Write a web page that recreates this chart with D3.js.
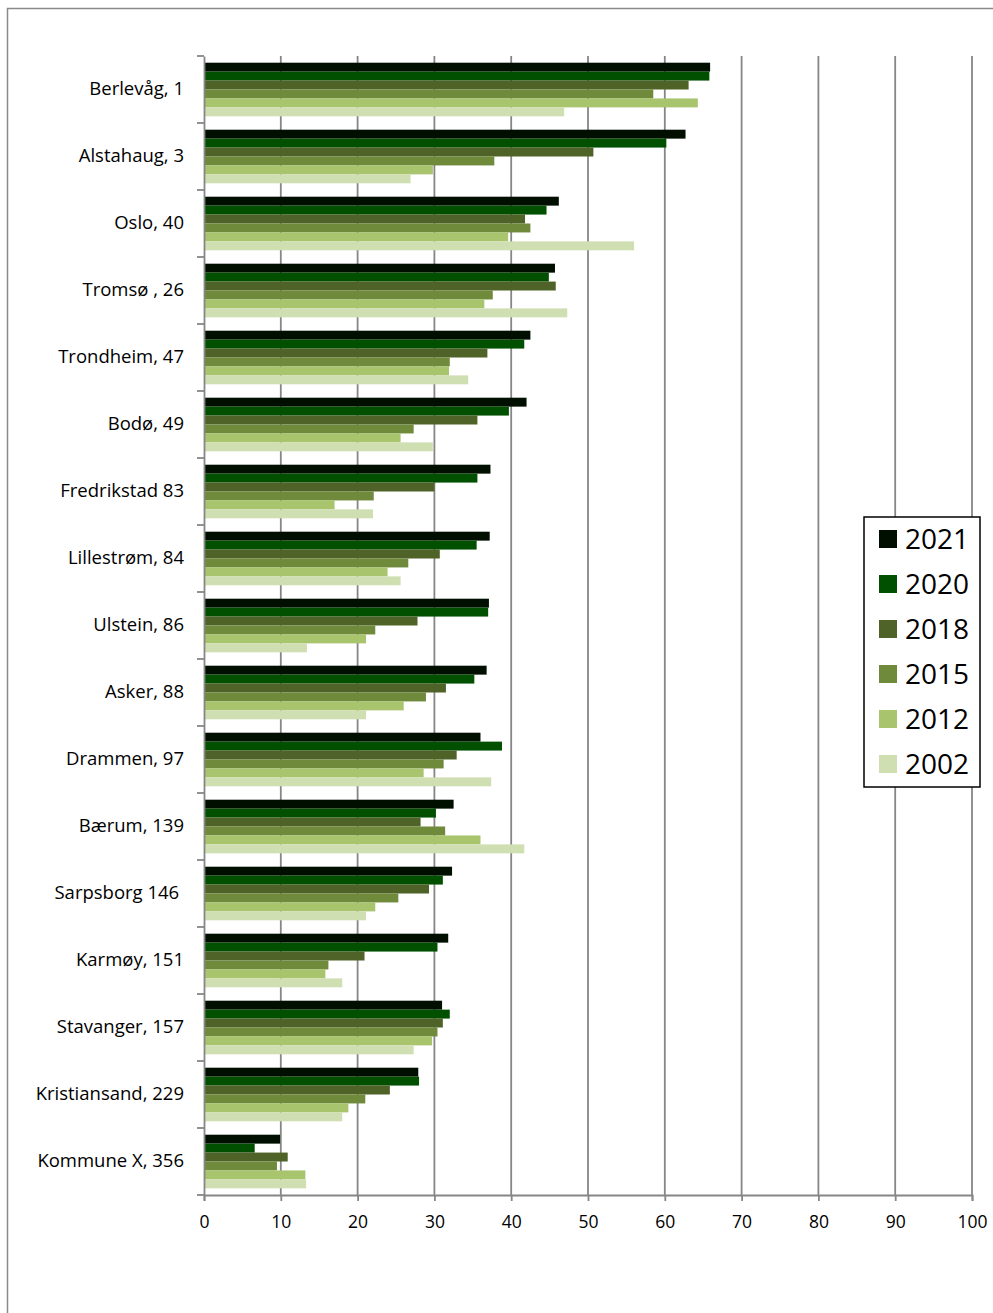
<!DOCTYPE html>
<html>
<head>
<meta charset="utf-8">
<script src="https://cdn.jsdelivr.net/npm/d3@7"></script>
<style>
  body { margin: 0; background: #fff; }
  svg text { font-family: "Open Sans", sans-serif; fill: #000; white-space: pre; }
</style>
</head>
<body>
<div id="chart"></div>
<script>
const categories = ["Berlevåg, 1", "Alstahaug, 3", "Oslo, 40", "Tromsø , 26", "Trondheim, 47",
  "Bodø, 49", "Fredrikstad 83", "Lillestrøm, 84", "Ulstein, 86", "Asker, 88", "Drammen, 97",
  "Bærum, 139", "Sarpsborg 146 ", "Karmøy, 151", "Stavanger, 157", "Kristiansand, 229", "Kommune X, 356"];

const years = ["2021", "2020", "2018", "2015", "2012", "2002"];

const v2021 = [65.9, 62.7, 46.2, 45.7, 42.5, 42.0, 37.3, 37.2, 37.1, 36.8, 36.0, 32.5, 32.3, 31.8, 31.0, 27.9, 9.9];
const v2020 = [65.8, 60.2, 44.6, 44.9, 41.7, 39.7, 35.6, 35.5, 37.0, 35.2, 38.8, 30.2, 31.1, 30.4, 32.0, 28.0, 6.6];
const v2018 = [63.1, 50.7, 41.8, 45.8, 36.9, 35.6, 30.0, 30.7, 27.8, 31.5, 32.9, 28.2, 29.3, 20.9, 31.1, 24.2, 10.9];
const v2015 = [58.5, 37.8, 42.5, 37.6, 32.0, 27.3, 22.1, 26.6, 22.3, 28.9, 31.2, 31.4, 25.3, 16.2, 30.4, 21.0, 9.5];
const v2012 = [64.3, 29.8, 39.6, 36.5, 31.9, 25.6, 17.0, 23.9, 21.1, 26.0, 28.6, 36.0, 22.3, 15.8, 29.7, 18.8, 13.2];
const v2002 = [46.9, 26.9, 56.0, 47.3, 34.4, 29.8, 22.0, 25.6, 13.4, 21.1, 37.4, 41.7, 21.1, 18.0, 27.3, 18.0, 13.3];

const xTicks = [0, 10, 20, 30, 40, 50, 60, 70, 80, 90, 100];
const colors = ["#000f00", "#005000", "#4f6228", "#6f8a3b", "#a8c46c", "#d0dfb2"];

const series = [v2021, v2020, v2018, v2015, v2012, v2002];
const data = categories.map((c, i) => ({ name: c, values: series.map(s => s[i]) }));

const width = 993, height = 1313;
const margin = { top: 56, left: 204, right: 21, bottom: 118 };

const svg = d3.select("#chart").append("svg")
  .attr("width", width)
  .attr("height", height);

// outer frame
svg.append("path")
  .attr("d", `M7.5,${height} V8.5 H${width}`)
  .attr("fill", "none")
  .attr("stroke", "#8a8a8a")
  .attr("stroke-width", 1.5);

const x = d3.scaleLinear()
  .domain([0, 100])
  .range([margin.left, width - margin.right]);

const y = d3.scaleBand()
  .domain(categories)
  .range([margin.top, height - margin.bottom])
  .paddingInner(0.2)
  .paddingOuter(0.1);

const yInner = d3.scaleBand()
  .domain(years)
  .range([0, y.bandwidth()]);

// gridlines
svg.append("g")
  .selectAll("line")
  .data(xTicks.slice(1))
  .join("line")
  .attr("x1", d => x(d))
  .attr("x2", d => x(d))
  .attr("y1", margin.top)
  .attr("y2", height - margin.bottom)
  .attr("stroke", "#868686")
  .attr("stroke-width", 1.8);

// bars
const groups = svg.append("g")
  .selectAll("g")
  .data(data)
  .join("g")
  .attr("transform", d => `translate(0,${y(d.name)})`);

groups.selectAll("rect")
  .data(d => d.values.map((v, j) => ({ year: years[j], value: v, color: colors[j] })))
  .join("rect")
  .attr("x", x(0))
  .attr("y", d => yInner(d.year))
  .attr("width", d => x(d.value) - x(0))
  .attr("height", yInner.bandwidth())
  .attr("fill", d => d.color);

// y axis
const yAxis = svg.append("g")
  .attr("transform", `translate(${x(0)},0)`)
  .call(d3.axisLeft(y).tickSize(0).tickPadding(20));
yAxis.select(".domain").attr("stroke", "#868686").attr("stroke-width", 1.8);
yAxis.selectAll("text").attr("font-size", 18.5);

// y tick marks on band boundaries
const bounds = categories.map(c => y(c) - y.step() * y.paddingInner() / 2)
  .concat([height - margin.bottom]);
svg.append("g")
  .selectAll("line")
  .data(bounds)
  .join("line")
  .attr("x1", x(0) - 7)
  .attr("x2", x(0))
  .attr("y1", d => d)
  .attr("y2", d => d)
  .attr("stroke", "#868686")
  .attr("stroke-width", 1.8);

// x axis
const xAxis = svg.append("g")
  .attr("transform", `translate(0,${height - margin.bottom})`)
  .call(d3.axisBottom(x).tickValues(xTicks).tickSize(6).tickPadding(15));
xAxis.select(".domain").attr("stroke", "#868686").attr("stroke-width", 1.8);
xAxis.selectAll(".tick line").attr("stroke", "#868686").attr("stroke-width", 1.8);
xAxis.selectAll("text").attr("font-size", 17.5);

// legend
const legend = svg.append("g").attr("transform", "translate(864,517)");
legend.append("rect")
  .attr("width", 116)
  .attr("height", 270)
  .attr("fill", "#fff")
  .attr("stroke", "#000")
  .attr("stroke-width", 1.5);

const item = legend.selectAll(".item")
  .data(years)
  .join("g")
  .attr("class", "item")
  .attr("transform", (d, i) => `translate(15,${22 + i * 45})`);

item.append("rect")
  .attr("y", -9)
  .attr("width", 18)
  .attr("height", 18)
  .attr("fill", (d, i) => colors[i]);

item.append("text")
  .attr("x", 26)
  .attr("dy", "0.36em")
  .attr("font-size", 28)
  .text(d => d);
</script>
</body>
</html>
